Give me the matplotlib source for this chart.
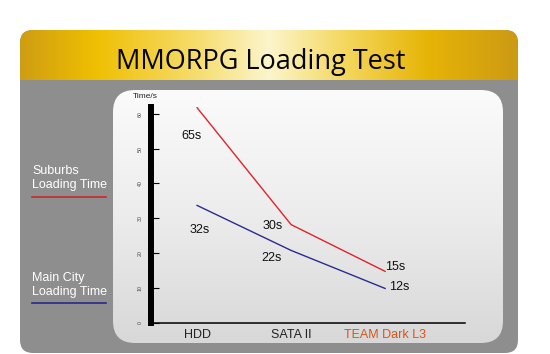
import numpy as np
import matplotlib
matplotlib.use("Agg")
import matplotlib.pyplot as plt
from matplotlib.patches import FancyBboxPatch
from matplotlib.colors import LinearSegmentedColormap

# data
categories = ["HDD", "SATA II", "TEAM Dark L3"]
suburbs = [61.7, 28.2, 14.8]
main_city = [33.7, 20.8, 9.9]
suburbs_labels = ["65s", "30s", "15s"]
main_city_labels = ["32s", "22s", "12s"]
yticks = [0, 10, 20, 30, 40, 50, 60]

W, H = 550, 354
fig = plt.figure(figsize=(W / 100, H / 100), dpi=100)
fig.patch.set_facecolor("white")

# background drawn in pixel coordinates
bg = fig.add_axes([0, 0, 1, 1])
bg.set_xlim(0, W)
bg.set_ylim(H, 0)
bg.axis("off")

# grey outer panel
outer = FancyBboxPatch((20, 30), 498, 323, boxstyle="round,pad=0,rounding_size=13",
                       fc="#8e8e8e", ec="none")
bg.add_patch(outer)

# gold banner gradient, clipped to the outer panel
gold = LinearSegmentedColormap.from_list("gold", [
    (0.0, "#cf9d12"), (0.15, "#efbf02"), (0.35, "#f6dc6a"), (0.5, "#fcf5cc"),
    (0.65, "#f4d860"), (0.82, "#e6b406"), (1.0, "#cc9a14")])
grad = np.linspace(0, 1, 256).reshape(1, -1)
im = bg.imshow(grad, cmap=gold, aspect="auto", extent=(20, 518, 80, 30),
               interpolation="bicubic", zorder=2)
im.set_clip_path(outer)

bg.text(261, 69, "MMORPG Loading Test", fontsize=19.5, family="Open Sans",
        ha="center", va="baseline", color="#050505", zorder=3)

# inner light panel with vertical gradient
inner = FancyBboxPatch((113, 90), 390, 253, boxstyle="round,pad=0,rounding_size=22",
                       fc="none", ec="none", zorder=3)
bg.add_patch(inner)
light = LinearSegmentedColormap.from_list("light", ["#fbfbfb", "#ececec", "#d8d8d8"])
vgrad = np.linspace(0, 1, 256).reshape(-1, 1)
im2 = bg.imshow(vgrad, cmap=light, aspect="auto", extent=(113, 503, 343, 90),
                interpolation="bicubic", zorder=3)
im2.set_clip_path(inner)

# left side legend
bg.text(32, 178, "Suburbs\nLoading Time", fontsize=9, family="Liberation Sans",
        color="white", va="center", ha="left", linespacing=1.3, zorder=4)
bg.plot([32, 106], [197, 197], color="#c8282e", lw=1.2, zorder=4)
bg.text(32, 285, "Main City\nLoading Time", fontsize=9, family="Liberation Sans",
        color="white", va="center", ha="left", linespacing=1.3, zorder=4)
bg.plot([32, 106], [303, 303], color="#2a2a88", lw=1.2, zorder=4)

bg.text(145, 97, "Time/s", fontsize=6, family="Liberation Sans",
        ha="center", va="center", color="#222222", zorder=4)

# chart
x0_px, x1_px, ytop_px, ybot_px = 151, 465, 107, 323
ax = fig.add_axes([x0_px / W, 1 - ybot_px / H, (x1_px - x0_px) / W, (ybot_px - ytop_px) / H])
ax.patch.set_alpha(0)
x = np.arange(len(categories))
ax.set_xlim(-0.49, 2.85)
ax.set_ylim(0, 61.9)

ax.plot(x, suburbs, color="#e0232b", lw=1.0)
ax.plot(x, main_city, color="#2b2b8e", lw=1.0)

offs_sub = [(-6, -28), (-18, -1), (10, 4)]
offs_city = [(3, -25), (-20, -8), (14, 1)]
for xi, v, lab, o in zip(x, suburbs, suburbs_labels, offs_sub):
    ax.annotate(lab, (xi, v), xytext=o, textcoords="offset pixels", fontsize=9,
                family="Liberation Sans", ha="center", va="center", color="#111111")
for xi, v, lab, o in zip(x, main_city, main_city_labels, offs_city):
    ax.annotate(lab, (xi, v), xytext=o, textcoords="offset pixels", fontsize=9,
                family="Liberation Sans", ha="center", va="center", color="#111111")

for s in ["top", "right"]:
    ax.spines[s].set_visible(False)
ax.spines["left"].set_linewidth(4.3)
ax.spines["bottom"].set_linewidth(1.1)
ax.set_yticks(yticks)
ax.set_yticklabels([str(t) for t in yticks], rotation=90, fontsize=3.8,
                   color="#444444", va="center", family="Liberation Sans")
ax.tick_params(axis="y", direction="in", length=5.5, width=0.8, pad=6)
ax.set_xticks(x)
ax.set_xticklabels(categories, fontsize=9, family="Liberation Sans", color="#222222")
ax.tick_params(axis="x", length=0, pad=4)
ax.get_xticklabels()[2].set_color("#d8541e")

fig.savefig("out.png", dpi=100, facecolor="white")
